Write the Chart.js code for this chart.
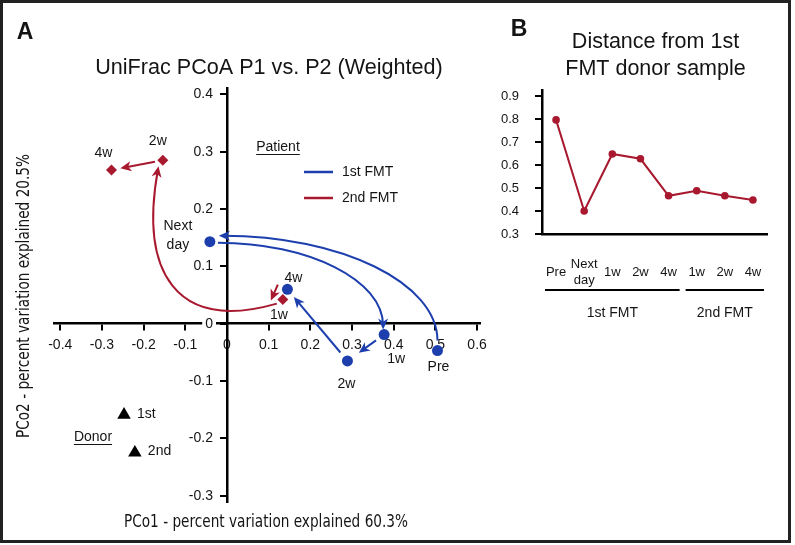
<!DOCTYPE html>
<html><head><meta charset="utf-8">
<script src="https://cdn.jsdelivr.net/npm/chart.js@4/dist/chart.umd.min.js"></script>
<style>
html,body{margin:0;padding:0;background:#fff;}
#wrap{position:relative;width:795px;height:545px;overflow:hidden;background:#fff;}
#ca{position:absolute;left:0;top:0;}
#cb{position:absolute;left:490px;top:0;}
#frame{position:absolute;left:0;top:0;width:791px;height:543px;box-sizing:border-box;border:3px solid #222;pointer-events:none;}
</style></head><body>
<div id="wrap"><canvas id="ca" width="510" height="545"></canvas><canvas id="cb" width="305" height="545"></canvas><div id="frame"></div></div>
<script>
// ---------- Panel A data (UniFrac PCoA, weighted) ----------
const firstFmtLabels = ['Pre', 'Next day', '1w', '2w', '4w'];
const firstFmtPCo1 = [0.505, -0.041, 0.377, 0.289, 0.145];
const firstFmtPCo2 = [-0.047, 0.143, -0.019, -0.065, 0.060];
const secondFmtLabels = ['1w', '2w', '4w'];
const secondFmtPCo1 = [0.134, -0.154, -0.277];
const secondFmtPCo2 = [0.042, 0.285, 0.268];
const donorLabels = ['1st', '2nd'];
const donorPCo1 = [-0.247, -0.221];
const donorPCo2 = [-0.159, -0.225];
const pco1Ticks = [-0.4, -0.3, -0.2, -0.1, 0, 0.1, 0.2, 0.3, 0.4, 0.5, 0.6];
const pco2Ticks = [-0.3, -0.2, -0.1, 0, 0.1, 0.2, 0.3, 0.4];

// ---------- Panel B data (distance from 1st FMT donor sample) ----------
const timepoints = [['Pre'], ['Next', 'day'], ['1w'], ['2w'], ['4w'], ['1w'], ['2w'], ['4w']];
const distanceFromDonor = [0.796, 0.400, 0.648, 0.627, 0.466, 0.488, 0.466, 0.448];
const distanceTicks = [0.3, 0.4, 0.5, 0.6, 0.7, 0.8, 0.9];
const fmtGroupNames = ['1st FMT', '2nd FMT'];
const fmtGroupFirst = [0, 5];
const fmtGroupLast = [4, 7];

// ---------- styles ----------
const SANS = '"Liberation Sans", Arial, Helvetica, sans-serif';
const NARROW = '"Liberation Sans Narrow", "DejaVu Sans Condensed", "Roboto Condensed", sans-serif';
const BLUE = '#1d3fae';
const RED = '#a8192f';
const INK = '#141414';

const pointNames = [firstFmtLabels, secondFmtLabels, donorLabels];
const labelOffsets = [
  [[1, 17], [-32, -6], [12, 25], [-1, 23], [6, -11]],
  [[-4, 16], [-5, -19], [-8, -17]],
  [[13, -1], [13, -2]]
];
const labelAligns = ['center', 'center', 'left'];

const arrowStyles = [
  {ds: 0, from: 0, to: 1, color: BLUE, s: [0, -10], e: [13, -6], h1: [0, 0.55], h2: [0.55, 0]},
  {ds: 0, from: 1, to: 2, color: BLUE, s: [8, 1], e: [-1, -9], h1: [0.55, 0], h2: [0, 0.55]},
  {ds: 0, from: 2, to: 3, color: BLUE, trim: [10, 14]},
  {ds: 0, from: 3, to: 4, color: BLUE, trim: [11, 10]},
  {ds: 1, from: 0, to: 1, color: RED, s: [-6, 4], e: [-5, 10], h1: [0.86, -0.22], h2: [-0.15, 0.75]},
  {ds: 1, from: 1, to: 2, color: RED, trim: [8, 9]},
  {ds: 1, at: 0, color: RED, tail: [-5, -15], tip: [-12, 1]}
];

function fmtTick(v) { return String(+Number(v).toFixed(1)); }

function arrowHead(ctx, tx, ty, dx, dy, color) {
  const len = Math.hypot(dx, dy) || 1;
  const ux = dx / len, uy = dy / len, nx = -uy, ny = ux;
  const L = 11, W = 5;
  const bx = tx - ux * L, by = ty - uy * L;
  ctx.beginPath();
  ctx.moveTo(tx, ty);
  ctx.lineTo(bx + nx * W, by + ny * W);
  ctx.lineTo(tx - ux * L * 0.72, ty - uy * L * 0.72);
  ctx.lineTo(bx - nx * W, by - ny * W);
  ctx.closePath();
  ctx.fillStyle = color;
  ctx.fill();
}

function fitText(ctx, text, cx, cy, width, font, rot) {
  ctx.save();
  ctx.font = font;
  const w = ctx.measureText(text).width;
  ctx.translate(cx, cy);
  if (rot) ctx.rotate(rot);
  ctx.scale(width / w, 1);
  ctx.textAlign = 'center';
  ctx.textBaseline = 'middle';
  ctx.fillStyle = INK;
  ctx.fillText(text, 0, 0);
  ctx.restore();
}

function txt(ctx, s, x, y, font, align, underline) {
  ctx.font = font;
  ctx.fillStyle = INK;
  ctx.textAlign = align || 'center';
  ctx.textBaseline = 'middle';
  ctx.fillText(s, x, y);
  if (underline) {
    const w = ctx.measureText(s).width;
    const x0 = align === 'left' ? x : x - w / 2;
    ctx.beginPath();
    ctx.moveTo(x0, y + 7.5);
    ctx.lineTo(x0 + w, y + 7.5);
    ctx.lineWidth = 1;
    ctx.strokeStyle = INK;
    ctx.stroke();
  }
}

const panelA = {
  id: 'panelA',
  beforeDatasetsDraw(chart) {
    const ctx = chart.ctx;
    ctx.save();
    // y-axis tick labels, placed left of the axis that crosses at PCo1 = 0
    const ys = chart.scales.y, xs = chart.scales.x;
    const ax = xs.getPixelForValue(0);
    const f = '14px ' + SANS;
    ys.ticks.forEach(t => {
      const y = ys.getPixelForValue(t.value);
      const s = (t.label !== undefined && t.label !== '') ? String(t.label) : fmtTick(t.value);
      ctx.font = f;
      const w = ctx.measureText(s).width;
      ctx.fillStyle = '#fff';
      ctx.fillRect(ax - 14 - w - 3, y - 8, w + 6, 16);
      txt(ctx, s, ax - 14, y, f, 'right');
    });
    ctx.lineWidth = 2;
    ctx.lineCap = 'butt';
    arrowStyles.forEach(a => {
      const pts = chart.getDatasetMeta(a.ds).data;
      ctx.strokeStyle = a.color;
      if (a.at !== undefined) {
        const p = pts[a.at];
        const t0 = {x: p.x + a.tail[0], y: p.y + a.tail[1]};
        const t1 = {x: p.x + a.tip[0], y: p.y + a.tip[1]};
        const dx = t1.x - t0.x, dy = t1.y - t0.y, l = Math.hypot(dx, dy);
        ctx.beginPath();
        ctx.moveTo(t0.x, t0.y);
        ctx.lineTo(t1.x - dx / l * 7, t1.y - dy / l * 7);
        ctx.stroke();
        arrowHead(ctx, t1.x, t1.y, dx, dy, a.color);
        return;
      }
      const P = pts[a.from], Q = pts[a.to];
      if (a.trim) {
        const dx = Q.x - P.x, dy = Q.y - P.y, l = Math.hypot(dx, dy);
        const ux = dx / l, uy = dy / l;
        const sx = P.x + ux * a.trim[0], sy = P.y + uy * a.trim[0];
        const ex = Q.x - ux * a.trim[1], ey = Q.y - uy * a.trim[1];
        ctx.beginPath();
        ctx.moveTo(sx, sy);
        ctx.lineTo(ex - ux * 7, ey - uy * 7);
        ctx.stroke();
        arrowHead(ctx, ex, ey, ux, uy, a.color);
      } else {
        const S = {x: P.x + a.s[0], y: P.y + a.s[1]};
        const E = {x: Q.x + a.e[0], y: Q.y + a.e[1]};
        const dx = E.x - S.x, dy = E.y - S.y;
        const c1 = {x: S.x + a.h1[0] * dx, y: S.y + a.h1[1] * dy};
        const c2 = {x: E.x - a.h2[0] * dx, y: E.y - a.h2[1] * dy};
        ctx.beginPath();
        ctx.moveTo(S.x, S.y);
        ctx.bezierCurveTo(c1.x, c1.y, c2.x, c2.y, E.x, E.y);
        ctx.stroke();
        const tx = E.x - c2.x, ty = E.y - c2.y, l = Math.hypot(tx, ty);
        arrowHead(ctx, E.x + tx / l * 4, E.y + ty / l * 4, tx, ty, a.color);
      }
    });
    ctx.restore();
  },
  afterDraw(chart) {
    const ctx = chart.ctx;
    ctx.save();
    txt(ctx, 'A', 25, 33, 'bold 23px ' + SANS);
    txt(ctx, 'UniFrac PCoA P1 vs. P2 (Weighted)', 269, 68, '21.6px ' + SANS);
    fitText(ctx, 'PCo1 - percent variation explained 60.3%', 266, 522, 284, '18px ' + NARROW, 0);
    fitText(ctx, 'PCo2 - percent variation explained 20.5%', 24, 296, 284, '18px ' + NARROW, -Math.PI / 2);
    // legend
    txt(ctx, 'Patient', 278, 147, '14px ' + SANS, 'center', true);
    const ds = chart.data.datasets;
    [0, 1].forEach((i, k) => {
      const y = 172 + k * 26;
      ctx.beginPath();
      ctx.moveTo(304, y);
      ctx.lineTo(333, y);
      ctx.lineWidth = 2.5;
      ctx.strokeStyle = ds[i].borderColor;
      ctx.stroke();
      txt(ctx, ds[i].label, 342, y, '14px ' + SANS, 'left');
    });
    txt(ctx, ds[2].label, 93, 437, '14px ' + SANS, 'center', true);
    // point labels
    pointNames.forEach((names, d) => {
      const pts = chart.getDatasetMeta(d).data;
      names.forEach((n, j) => {
        const p = pts[j], o = labelOffsets[d][j];
        const words = n.indexOf(' ') > 0 && d === 0 ? n.split(' ') : [n];
        words.forEach((w, k) => {
          const y = p.y + o[1] + (k - (words.length - 1) / 2) * 19;
          txt(ctx, w, p.x + o[0], y, '14px ' + SANS, labelAligns[d]);
        });
      });
    });
    ctx.restore();
  }
};

new Chart(document.getElementById('ca'), {
  type: 'scatter',
  data: {
    datasets: [
      {label: '1st FMT', data: firstFmtPCo1.map((x, i) => ({x, y: firstFmtPCo2[i]})),
       pointStyle: 'circle', pointRadius: 5.5, backgroundColor: BLUE, borderColor: BLUE, borderWidth: 0},
      {label: '2nd FMT', data: secondFmtPCo1.map((x, i) => ({x, y: secondFmtPCo2[i]})),
       pointStyle: 'rectRot', pointRadius: 5.5, backgroundColor: RED, borderColor: RED, borderWidth: 0},
      {label: 'Donor', data: donorPCo1.map((x, i) => ({x, y: donorPCo2[i]})),
       pointStyle: 'triangle', pointRadius: 7.8, backgroundColor: '#000', borderColor: '#000', borderWidth: 0}
    ]
  },
  options: {
    responsive: false, animation: false, devicePixelRatio: 1,
    layout: {padding: {left: 54, right: 30, top: 88, bottom: 43}},
    plugins: {legend: {display: false}, tooltip: {enabled: false}, title: {display: false}},
    scales: {
      x: {
        type: 'linear', position: {y: 0}, min: -0.415, max: 0.607,
        afterBuildTicks: s => { s.ticks = pco1Ticks.map(v => ({value: v})); },
        grid: {drawOnChartArea: false, drawTicks: true, tickLength: 6, color: '#000', lineWidth: 2},
        border: {color: '#000', width: 2.5},
        ticks: {font: {family: SANS, size: 14}, color: INK, padding: 7, autoSkip: false, maxRotation: 0, callback: fmtTick}
      },
      y: {
        type: 'linear', position: {x: 0}, min: -0.311, max: 0.411,
        afterBuildTicks: s => { s.ticks = pco2Ticks.map(v => ({value: v})); },
        grid: {drawOnChartArea: false, drawTicks: true, tickLength: 6, color: '#000', lineWidth: 2},
        border: {color: '#000', width: 2.5},
        ticks: {display: false, font: {family: SANS, size: 14}, autoSkip: false, callback: fmtTick}
      }
    }
  },
  plugins: [panelA]
});

const panelB = {
  id: 'panelB',
  afterDraw(chart) {
    const ctx = chart.ctx, ca = chart.chartArea, xs = chart.scales.x;
    ctx.save();
    txt(ctx, 'B', 29, 30, 'bold 23px ' + SANS);
    const cx = (ca.left + ca.right) / 2;
    txt(ctx, 'Distance from 1st', cx + 1, 42, '21.5px ' + SANS);
    txt(ctx, 'FMT donor sample', cx + 1, 69, '21.5px ' + SANS);
    const half = (xs.getPixelForValue(1) - xs.getPixelForValue(0)) / 2;
    fmtGroupNames.forEach((g, k) => {
      const x0 = xs.getPixelForValue(fmtGroupFirst[k]) - half + 3;
      const x1 = xs.getPixelForValue(fmtGroupLast[k]) + half - 3;
      ctx.beginPath();
      ctx.moveTo(x0, ca.bottom + 56);
      ctx.lineTo(x1, ca.bottom + 56);
      ctx.lineWidth = 2;
      ctx.strokeStyle = '#000';
      ctx.stroke();
      txt(ctx, g, (x0 + x1) / 2, ca.bottom + 79, '14px ' + SANS);
    });
    ctx.restore();
  }
};

new Chart(document.getElementById('cb'), {
  type: 'line',
  data: {
    labels: timepoints,
    datasets: [{data: distanceFromDonor, borderColor: RED, backgroundColor: RED, borderWidth: 2,
                pointRadius: 3.8, pointBackgroundColor: RED, pointBorderWidth: 0, tension: 0}]
  },
  options: {
    responsive: false, animation: false, devicePixelRatio: 1,
    layout: {padding: {left: 2, right: 28, top: 90, bottom: 231}},
    plugins: {legend: {display: false}, tooltip: {enabled: false}, title: {display: false}},
    scales: {
      x: {
        type: 'category', offset: true,
        afterFit: s => { s.height = 80; },
        grid: {display: false, drawTicks: false},
        border: {color: '#000', width: 2.5},
        ticks: {font: {family: SANS, size: 13, lineHeight: 1.3}, color: INK, padding: 30, crossAlign: 'center',
                autoSkip: false, maxRotation: 0}
      },
      y: {
        min: 0.3, max: 0.926,
        afterFit: s => { s.width = 50; },
        afterBuildTicks: s => { s.ticks = distanceTicks.map(v => ({value: v})); },
        grid: {drawOnChartArea: false, drawTicks: true, tickLength: 7, color: '#000', lineWidth: 2},
        border: {color: '#000', width: 2.5},
        ticks: {font: {family: SANS, size: 13}, color: INK, padding: 16, callback: v => Number(v).toFixed(1)}
      }
    }
  },
  plugins: [panelB]
});
</script>
</body></html>
